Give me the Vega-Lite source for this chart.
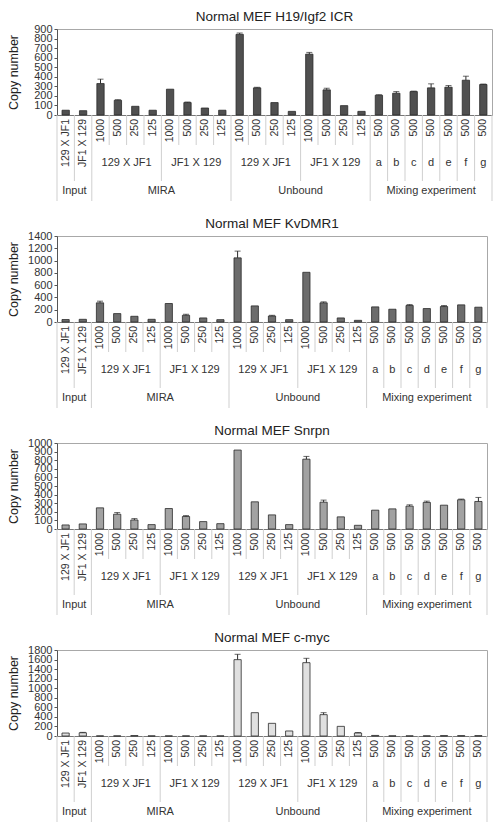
{
  "$schema": "https://vega.github.io/schema/vega-lite/v6.json",
  "padding": {"left": 6, "top": 9, "right": 4, "bottom": 0},
  "spacing": 14,
  "config": {
    "font": "Liberation Sans",
    "view": {"stroke": "#a8a8a8", "strokeWidth": 1},
    "title": {"fontSize": 13.5, "fontWeight": "normal", "color": "#222222", "offset": 0, "dy": 4},
    "axis": {"grid": false, "labelOverlap": false, "labelFlush": false, "labelBound": false},
    "text": {"color": "#333333", "fontSize": 11, "baseline": "middle", "align": "center"}
  },
  "datasets": {
    "bars": [
      {"gene": "H19", "cat": "I1", "v": 50}, {"gene": "H19", "cat": "I2", "v": 45},
      {"gene": "H19", "cat": "Ma1", "v": 329, "hi": 375}, {"gene": "H19", "cat": "Ma2", "v": 154, "hi": 160}, {"gene": "H19", "cat": "Ma3", "v": 91}, {"gene": "H19", "cat": "Ma4", "v": 50},
      {"gene": "H19", "cat": "Mb1", "v": 270}, {"gene": "H19", "cat": "Mb2", "v": 130, "hi": 136}, {"gene": "H19", "cat": "Mb3", "v": 73}, {"gene": "H19", "cat": "Mb4", "v": 50},
      {"gene": "H19", "cat": "Ua1", "v": 844, "hi": 858}, {"gene": "H19", "cat": "Ua2", "v": 284, "hi": 290}, {"gene": "H19", "cat": "Ua3", "v": 130}, {"gene": "H19", "cat": "Ua4", "v": 38},
      {"gene": "H19", "cat": "Ub1", "v": 637, "hi": 655}, {"gene": "H19", "cat": "Ub2", "v": 263, "hi": 280}, {"gene": "H19", "cat": "Ub3", "v": 98}, {"gene": "H19", "cat": "Ub4", "v": 38},
      {"gene": "H19", "cat": "Xa", "v": 207, "hi": 212}, {"gene": "H19", "cat": "Xb", "v": 228, "hi": 245}, {"gene": "H19", "cat": "Xc", "v": 245, "hi": 250}, {"gene": "H19", "cat": "Xd", "v": 284, "hi": 326}, {"gene": "H19", "cat": "Xe", "v": 291, "hi": 308}, {"gene": "H19", "cat": "Xf", "v": 364, "hi": 406}, {"gene": "H19", "cat": "Xg", "v": 319, "hi": 324},
      {"gene": "Kv", "cat": "I1", "v": 40}, {"gene": "Kv", "cat": "I2", "v": 44},
      {"gene": "Kv", "cat": "Ma1", "v": 312, "hi": 339}, {"gene": "Kv", "cat": "Ma2", "v": 137}, {"gene": "Kv", "cat": "Ma3", "v": 93}, {"gene": "Kv", "cat": "Ma4", "v": 44},
      {"gene": "Kv", "cat": "Mb1", "v": 301}, {"gene": "Kv", "cat": "Mb2", "v": 109, "hi": 126}, {"gene": "Kv", "cat": "Mb3", "v": 66}, {"gene": "Kv", "cat": "Mb4", "v": 38},
      {"gene": "Kv", "cat": "Ua1", "v": 1044, "hi": 1154}, {"gene": "Kv", "cat": "Ua2", "v": 262}, {"gene": "Kv", "cat": "Ua3", "v": 98, "hi": 109}, {"gene": "Kv", "cat": "Ua4", "v": 38},
      {"gene": "Kv", "cat": "Ub1", "v": 809}, {"gene": "Kv", "cat": "Ub2", "v": 312, "hi": 328}, {"gene": "Kv", "cat": "Ub3", "v": 66}, {"gene": "Kv", "cat": "Ub4", "v": 27},
      {"gene": "Kv", "cat": "Xa", "v": 246}, {"gene": "Kv", "cat": "Xb", "v": 208}, {"gene": "Kv", "cat": "Xc", "v": 268, "hi": 284}, {"gene": "Kv", "cat": "Xd", "v": 219}, {"gene": "Kv", "cat": "Xe", "v": 252, "hi": 268}, {"gene": "Kv", "cat": "Xf", "v": 279}, {"gene": "Kv", "cat": "Xg", "v": 241},
      {"gene": "Snrpn", "cat": "I1", "v": 47}, {"gene": "Snrpn", "cat": "I2", "v": 59},
      {"gene": "Snrpn", "cat": "Ma1", "v": 246}, {"gene": "Snrpn", "cat": "Ma2", "v": 172, "hi": 191}, {"gene": "Snrpn", "cat": "Ma3", "v": 105, "hi": 121}, {"gene": "Snrpn", "cat": "Ma4", "v": 51},
      {"gene": "Snrpn", "cat": "Mb1", "v": 238}, {"gene": "Snrpn", "cat": "Mb2", "v": 145, "hi": 156}, {"gene": "Snrpn", "cat": "Mb3", "v": 86}, {"gene": "Snrpn", "cat": "Mb4", "v": 62},
      {"gene": "Snrpn", "cat": "Ua1", "v": 918}, {"gene": "Snrpn", "cat": "Ua2", "v": 316}, {"gene": "Snrpn", "cat": "Ua3", "v": 164}, {"gene": "Snrpn", "cat": "Ua4", "v": 51},
      {"gene": "Snrpn", "cat": "Ub1", "v": 812, "hi": 844}, {"gene": "Snrpn", "cat": "Ub2", "v": 312, "hi": 336}, {"gene": "Snrpn", "cat": "Ub3", "v": 141}, {"gene": "Snrpn", "cat": "Ub4", "v": 43},
      {"gene": "Snrpn", "cat": "Xa", "v": 219}, {"gene": "Snrpn", "cat": "Xb", "v": 234}, {"gene": "Snrpn", "cat": "Xc", "v": 266, "hi": 281}, {"gene": "Snrpn", "cat": "Xd", "v": 309, "hi": 324}, {"gene": "Snrpn", "cat": "Xe", "v": 277}, {"gene": "Snrpn", "cat": "Xf", "v": 340, "hi": 348}, {"gene": "Snrpn", "cat": "Xg", "v": 320, "hi": 367},
      {"gene": "myc", "cat": "I1", "v": 62}, {"gene": "myc", "cat": "I2", "v": 68, "hi": 76},
      {"gene": "myc", "cat": "Ma1", "v": 2}, {"gene": "myc", "cat": "Ma2", "v": 2}, {"gene": "myc", "cat": "Ma3", "v": 9}, {"gene": "myc", "cat": "Ma4", "v": 2},
      {"gene": "myc", "cat": "Mb1", "v": 2}, {"gene": "myc", "cat": "Mb2", "v": 2}, {"gene": "myc", "cat": "Mb3", "v": 2}, {"gene": "myc", "cat": "Mb4", "v": 2},
      {"gene": "myc", "cat": "Ua1", "v": 1598, "hi": 1710}, {"gene": "myc", "cat": "Ua2", "v": 488}, {"gene": "myc", "cat": "Ua3", "v": 265}, {"gene": "myc", "cat": "Ua4", "v": 105},
      {"gene": "myc", "cat": "Ub1", "v": 1535, "hi": 1626}, {"gene": "myc", "cat": "Ub2", "v": 447, "hi": 488}, {"gene": "myc", "cat": "Ub3", "v": 202}, {"gene": "myc", "cat": "Ub4", "v": 63, "hi": 72},
      {"gene": "myc", "cat": "Xa", "v": 12}, {"gene": "myc", "cat": "Xb", "v": 3}, {"gene": "myc", "cat": "Xc", "v": 3}, {"gene": "myc", "cat": "Xd", "v": 3}, {"gene": "myc", "cat": "Xe", "v": 8}, {"gene": "myc", "cat": "Xf", "v": 8}, {"gene": "myc", "cat": "Xg", "v": 8}
    ],
    "labels": [
      {"cat": "I1", "text": "129 X JF1", "lvl": 1, "anchor": "mid"}, {"cat": "I2", "text": "JF1 X 129", "lvl": 1, "anchor": "mid"},
      {"cat": "Ma1", "text": "1000", "lvl": 1, "anchor": "mid"}, {"cat": "Ma2", "text": "500", "lvl": 1, "anchor": "mid"}, {"cat": "Ma3", "text": "250", "lvl": 1, "anchor": "mid"}, {"cat": "Ma4", "text": "125", "lvl": 1, "anchor": "mid"},
      {"cat": "Mb1", "text": "1000", "lvl": 1, "anchor": "mid"}, {"cat": "Mb2", "text": "500", "lvl": 1, "anchor": "mid"}, {"cat": "Mb3", "text": "250", "lvl": 1, "anchor": "mid"}, {"cat": "Mb4", "text": "125", "lvl": 1, "anchor": "mid"},
      {"cat": "Ua1", "text": "1000", "lvl": 1, "anchor": "mid"}, {"cat": "Ua2", "text": "500", "lvl": 1, "anchor": "mid"}, {"cat": "Ua3", "text": "250", "lvl": 1, "anchor": "mid"}, {"cat": "Ua4", "text": "125", "lvl": 1, "anchor": "mid"},
      {"cat": "Ub1", "text": "1000", "lvl": 1, "anchor": "mid"}, {"cat": "Ub2", "text": "500", "lvl": 1, "anchor": "mid"}, {"cat": "Ub3", "text": "250", "lvl": 1, "anchor": "mid"}, {"cat": "Ub4", "text": "125", "lvl": 1, "anchor": "mid"},
      {"cat": "Xa", "text": "500", "lvl": 1, "anchor": "mid"}, {"cat": "Xb", "text": "500", "lvl": 1, "anchor": "mid"}, {"cat": "Xc", "text": "500", "lvl": 1, "anchor": "mid"}, {"cat": "Xd", "text": "500", "lvl": 1, "anchor": "mid"}, {"cat": "Xe", "text": "500", "lvl": 1, "anchor": "mid"}, {"cat": "Xf", "text": "500", "lvl": 1, "anchor": "mid"}, {"cat": "Xg", "text": "500", "lvl": 1, "anchor": "mid"},
      {"cat": "Ma2", "text": "129 X JF1", "lvl": 2, "anchor": "end"}, {"cat": "Mb2", "text": "JF1 X 129", "lvl": 2, "anchor": "end"},
      {"cat": "Ua2", "text": "129 X JF1", "lvl": 2, "anchor": "end"}, {"cat": "Ub2", "text": "JF1 X 129", "lvl": 2, "anchor": "end"},
      {"cat": "Xa", "text": "a", "lvl": 2, "anchor": "mid"}, {"cat": "Xb", "text": "b", "lvl": 2, "anchor": "mid"}, {"cat": "Xc", "text": "c", "lvl": 2, "anchor": "mid"}, {"cat": "Xd", "text": "d", "lvl": 2, "anchor": "mid"}, {"cat": "Xe", "text": "e", "lvl": 2, "anchor": "mid"}, {"cat": "Xf", "text": "f", "lvl": 2, "anchor": "mid"}, {"cat": "Xg", "text": "g", "lvl": 2, "anchor": "mid"},
      {"cat": "I1", "text": "Input", "lvl": 3, "anchor": "end"}, {"cat": "Ma4", "text": "MIRA", "lvl": 3, "anchor": "end"}, {"cat": "Ua4", "text": "Unbound", "lvl": 3, "anchor": "end"}, {"cat": "Xd", "text": "Mixing experiment", "lvl": 3, "anchor": "mid"}
    ],
    "seps": [
      {"cat": "I1", "depth": 3, "side": "start"}, {"cat": "I2", "depth": 2, "side": "start"},
      {"cat": "Ma1", "depth": 3, "side": "start"}, {"cat": "Ma2", "depth": 1, "side": "start"}, {"cat": "Ma3", "depth": 1, "side": "start"}, {"cat": "Ma4", "depth": 1, "side": "start"},
      {"cat": "Mb1", "depth": 2, "side": "start"}, {"cat": "Mb2", "depth": 1, "side": "start"}, {"cat": "Mb3", "depth": 1, "side": "start"}, {"cat": "Mb4", "depth": 1, "side": "start"},
      {"cat": "Ua1", "depth": 3, "side": "start"}, {"cat": "Ua2", "depth": 1, "side": "start"}, {"cat": "Ua3", "depth": 1, "side": "start"}, {"cat": "Ua4", "depth": 1, "side": "start"},
      {"cat": "Ub1", "depth": 2, "side": "start"}, {"cat": "Ub2", "depth": 1, "side": "start"}, {"cat": "Ub3", "depth": 1, "side": "start"}, {"cat": "Ub4", "depth": 1, "side": "start"},
      {"cat": "Xa", "depth": 3, "side": "start"}, {"cat": "Xb", "depth": 2, "side": "start"}, {"cat": "Xc", "depth": 2, "side": "start"}, {"cat": "Xd", "depth": 2, "side": "start"}, {"cat": "Xe", "depth": 2, "side": "start"}, {"cat": "Xf", "depth": 2, "side": "start"}, {"cat": "Xg", "depth": 2, "side": "start"},
      {"cat": "Xg", "depth": 3, "side": "end"}
    ]
  },
  "vconcat": [
    {
      "title": "Normal MEF H19/Igf2 ICR",
      "width": 435, "height": 86,
      "resolve": {"scale": {"y": "independent"}, "axis": {"y": "independent"}},
      "layer": [
        {"data": {"name": "bars"}, "transform": [{"filter": "datum.gene == 'H19'"}],
         "mark": {"type": "bar", "width": {"band": 0.42}, "fill": "#505050", "stroke": "#2a2a2a", "strokeWidth": 0.8},
         "encoding": {
           "x": {"field": "cat", "type": "nominal", "sort": null, "scale": {"domain": ["I1","I2","Ma1","Ma2","Ma3","Ma4","Mb1","Mb2","Mb3","Mb4","Ua1","Ua2","Ua3","Ua4","Ub1","Ub2","Ub3","Ub4","Xa","Xb","Xc","Xd","Xe","Xf","Xg"], "paddingInner": 0, "paddingOuter": 0}, "axis": {"labels": false, "ticks": false, "title": null, "domainColor": "#777777"}},
           "y": {"field": "v", "type": "quantitative", "scale": {"domain": [0, 900], "nice": false}, "axis": {"values": [0,100,200,300,400,500,600,700,800,900], "format": "d", "title": "Copy number", "titleFontSize": 12.5, "titleFontWeight": "normal", "titleColor": "#222222", "labelFontSize": 11, "labelColor": "#333333", "tickSize": 3, "labelPadding": 2, "tickColor": "#555555", "domainColor": "#555555", "minExtent": 34, "maxExtent": 34, "titlePadding": 3}}}},
        {"data": {"name": "bars"}, "transform": [{"filter": "datum.gene == 'H19' && isValid(datum.hi)"}],
         "mark": {"type": "rule", "color": "#2a2a2a", "strokeWidth": 1},
         "encoding": {"x": {"field": "cat", "type": "nominal"}, "y": {"field": "v", "type": "quantitative", "scale": {"domain": [0, 900], "nice": false}, "axis": null}, "y2": {"field": "hi"}}},
        {"data": {"name": "bars"}, "transform": [{"filter": "datum.gene == 'H19' && isValid(datum.hi)"}],
         "mark": {"type": "tick", "orient": "horizontal", "size": 6, "thickness": 1, "color": "#2a2a2a"},
         "encoding": {"x": {"field": "cat", "type": "nominal"}, "y": {"field": "hi", "type": "quantitative", "scale": {"domain": [0, 900], "nice": false}, "axis": null}}},
        {"data": {"name": "seps"}, "transform": [{"filter": "datum.side == 'start'"}],
         "mark": {"type": "rule", "color": "#cfcfcf", "strokeWidth": 1},
         "encoding": {"x": {"field": "cat", "type": "nominal", "bandPosition": 0}, "y": {"field": "depth", "type": "quantitative", "scale": {"domain": [0, 1, 2, 3], "range": [86, 116, 152, 172], "nice": false, "zero": false}, "axis": null}, "y2": {"datum": 0}}},
        {"data": {"name": "seps"}, "transform": [{"filter": "datum.side == 'end'"}],
         "mark": {"type": "rule", "color": "#cfcfcf", "strokeWidth": 1},
         "encoding": {"x": {"field": "cat", "type": "nominal", "bandPosition": 1}, "y": {"field": "depth", "type": "quantitative", "scale": {"domain": [0, 1, 2, 3], "range": [86, 116, 152, 172], "nice": false, "zero": false}, "axis": null}, "y2": {"datum": 0}}},
        {"data": {"name": "labels"}, "transform": [{"filter": "datum.lvl == 1"}],
         "mark": {"type": "text", "angle": 270, "align": "right", "fontSize": 10.5},
         "encoding": {"x": {"field": "cat", "type": "nominal"}, "y": {"field": "lvl", "type": "quantitative", "scale": {"domain": [1, 2, 3, 4], "range": [90, 116, 152, 172], "nice": false, "zero": false}, "axis": null}, "text": {"field": "text"}}},
        {"data": {"name": "labels"}, "transform": [{"filter": "datum.lvl > 1 && datum.anchor == 'mid'"}],
         "mark": {"type": "text"},
         "encoding": {"x": {"field": "cat", "type": "nominal"}, "y": {"field": "lvl", "type": "quantitative", "scale": {"domain": [1, 2, 3], "range": [101, 134, 162], "nice": false, "zero": false}, "axis": null}, "text": {"field": "text"}}},
        {"data": {"name": "labels"}, "transform": [{"filter": "datum.lvl > 1 && datum.anchor == 'end'"}],
         "mark": {"type": "text"},
         "encoding": {"x": {"field": "cat", "type": "nominal", "bandPosition": 1}, "y": {"field": "lvl", "type": "quantitative", "scale": {"domain": [1, 2, 3], "range": [101, 134, 162], "nice": false, "zero": false}, "axis": null}, "text": {"field": "text"}}}
      ]
    },
    {
      "title": "Normal MEF KvDMR1",
      "width": 430, "height": 86,
      "resolve": {"scale": {"y": "independent"}, "axis": {"y": "independent"}},
      "layer": [
        {"data": {"name": "bars"}, "transform": [{"filter": "datum.gene == 'Kv'"}],
         "mark": {"type": "bar", "width": {"band": 0.42}, "fill": "#6c6c6c", "stroke": "#2a2a2a", "strokeWidth": 0.8},
         "encoding": {
           "x": {"field": "cat", "type": "nominal", "sort": null, "scale": {"domain": ["I1","I2","Ma1","Ma2","Ma3","Ma4","Mb1","Mb2","Mb3","Mb4","Ua1","Ua2","Ua3","Ua4","Ub1","Ub2","Ub3","Ub4","Xa","Xb","Xc","Xd","Xe","Xf","Xg"], "paddingInner": 0, "paddingOuter": 0}, "axis": {"labels": false, "ticks": false, "title": null, "domainColor": "#777777"}},
           "y": {"field": "v", "type": "quantitative", "scale": {"domain": [0, 1400], "nice": false}, "axis": {"values": [0,200,400,600,800,1000,1200,1400], "format": "d", "title": "Copy number", "titleFontSize": 12.5, "titleFontWeight": "normal", "titleColor": "#222222", "labelFontSize": 11, "labelColor": "#333333", "tickSize": 3, "labelPadding": 2, "tickColor": "#555555", "domainColor": "#555555", "minExtent": 34, "maxExtent": 34, "titlePadding": 3}}}},
        {"data": {"name": "bars"}, "transform": [{"filter": "datum.gene == 'Kv' && isValid(datum.hi)"}],
         "mark": {"type": "rule", "color": "#2a2a2a", "strokeWidth": 1},
         "encoding": {"x": {"field": "cat", "type": "nominal"}, "y": {"field": "v", "type": "quantitative", "scale": {"domain": [0, 1400], "nice": false}, "axis": null}, "y2": {"field": "hi"}}},
        {"data": {"name": "bars"}, "transform": [{"filter": "datum.gene == 'Kv' && isValid(datum.hi)"}],
         "mark": {"type": "tick", "orient": "horizontal", "size": 6, "thickness": 1, "color": "#2a2a2a"},
         "encoding": {"x": {"field": "cat", "type": "nominal"}, "y": {"field": "hi", "type": "quantitative", "scale": {"domain": [0, 1400], "nice": false}, "axis": null}}},
        {"data": {"name": "seps"}, "transform": [{"filter": "datum.side == 'start'"}],
         "mark": {"type": "rule", "color": "#cfcfcf", "strokeWidth": 1},
         "encoding": {"x": {"field": "cat", "type": "nominal", "bandPosition": 0}, "y": {"field": "depth", "type": "quantitative", "scale": {"domain": [0, 1, 2, 3], "range": [86, 116, 152, 172], "nice": false, "zero": false}, "axis": null}, "y2": {"datum": 0}}},
        {"data": {"name": "seps"}, "transform": [{"filter": "datum.side == 'end'"}],
         "mark": {"type": "rule", "color": "#cfcfcf", "strokeWidth": 1},
         "encoding": {"x": {"field": "cat", "type": "nominal", "bandPosition": 1}, "y": {"field": "depth", "type": "quantitative", "scale": {"domain": [0, 1, 2, 3], "range": [86, 116, 152, 172], "nice": false, "zero": false}, "axis": null}, "y2": {"datum": 0}}},
        {"data": {"name": "labels"}, "transform": [{"filter": "datum.lvl == 1"}],
         "mark": {"type": "text", "angle": 270, "align": "right", "fontSize": 10.5},
         "encoding": {"x": {"field": "cat", "type": "nominal"}, "y": {"field": "lvl", "type": "quantitative", "scale": {"domain": [1, 2, 3, 4], "range": [90, 116, 152, 172], "nice": false, "zero": false}, "axis": null}, "text": {"field": "text"}}},
        {"data": {"name": "labels"}, "transform": [{"filter": "datum.lvl > 1 && datum.anchor == 'mid'"}],
         "mark": {"type": "text"},
         "encoding": {"x": {"field": "cat", "type": "nominal"}, "y": {"field": "lvl", "type": "quantitative", "scale": {"domain": [1, 2, 3], "range": [101, 134, 162], "nice": false, "zero": false}, "axis": null}, "text": {"field": "text"}}},
        {"data": {"name": "labels"}, "transform": [{"filter": "datum.lvl > 1 && datum.anchor == 'end'"}],
         "mark": {"type": "text"},
         "encoding": {"x": {"field": "cat", "type": "nominal", "bandPosition": 1}, "y": {"field": "lvl", "type": "quantitative", "scale": {"domain": [1, 2, 3], "range": [101, 134, 162], "nice": false, "zero": false}, "axis": null}, "text": {"field": "text"}}}
      ]
    },
    {
      "title": "Normal MEF Snrpn",
      "width": 430, "height": 86,
      "resolve": {"scale": {"y": "independent"}, "axis": {"y": "independent"}},
      "layer": [
        {"data": {"name": "bars"}, "transform": [{"filter": "datum.gene == 'Snrpn'"}],
         "mark": {"type": "bar", "width": {"band": 0.42}, "fill": "#a2a2a2", "stroke": "#2a2a2a", "strokeWidth": 0.8},
         "encoding": {
           "x": {"field": "cat", "type": "nominal", "sort": null, "scale": {"domain": ["I1","I2","Ma1","Ma2","Ma3","Ma4","Mb1","Mb2","Mb3","Mb4","Ua1","Ua2","Ua3","Ua4","Ub1","Ub2","Ub3","Ub4","Xa","Xb","Xc","Xd","Xe","Xf","Xg"], "paddingInner": 0, "paddingOuter": 0}, "axis": {"labels": false, "ticks": false, "title": null, "domainColor": "#777777"}},
           "y": {"field": "v", "type": "quantitative", "scale": {"domain": [0, 1000], "nice": false}, "axis": {"values": [0,100,200,300,400,500,600,700,800,900,1000], "format": "d", "title": "Copy number", "titleFontSize": 12.5, "titleFontWeight": "normal", "titleColor": "#222222", "labelFontSize": 11, "labelColor": "#333333", "tickSize": 3, "labelPadding": 2, "tickColor": "#555555", "domainColor": "#555555", "minExtent": 34, "maxExtent": 34, "titlePadding": 3}}}},
        {"data": {"name": "bars"}, "transform": [{"filter": "datum.gene == 'Snrpn' && isValid(datum.hi)"}],
         "mark": {"type": "rule", "color": "#2a2a2a", "strokeWidth": 1},
         "encoding": {"x": {"field": "cat", "type": "nominal"}, "y": {"field": "v", "type": "quantitative", "scale": {"domain": [0, 1000], "nice": false}, "axis": null}, "y2": {"field": "hi"}}},
        {"data": {"name": "bars"}, "transform": [{"filter": "datum.gene == 'Snrpn' && isValid(datum.hi)"}],
         "mark": {"type": "tick", "orient": "horizontal", "size": 6, "thickness": 1, "color": "#2a2a2a"},
         "encoding": {"x": {"field": "cat", "type": "nominal"}, "y": {"field": "hi", "type": "quantitative", "scale": {"domain": [0, 1000], "nice": false}, "axis": null}}},
        {"data": {"name": "seps"}, "transform": [{"filter": "datum.side == 'start'"}],
         "mark": {"type": "rule", "color": "#cfcfcf", "strokeWidth": 1},
         "encoding": {"x": {"field": "cat", "type": "nominal", "bandPosition": 0}, "y": {"field": "depth", "type": "quantitative", "scale": {"domain": [0, 1, 2, 3], "range": [86, 116, 152, 172], "nice": false, "zero": false}, "axis": null}, "y2": {"datum": 0}}},
        {"data": {"name": "seps"}, "transform": [{"filter": "datum.side == 'end'"}],
         "mark": {"type": "rule", "color": "#cfcfcf", "strokeWidth": 1},
         "encoding": {"x": {"field": "cat", "type": "nominal", "bandPosition": 1}, "y": {"field": "depth", "type": "quantitative", "scale": {"domain": [0, 1, 2, 3], "range": [86, 116, 152, 172], "nice": false, "zero": false}, "axis": null}, "y2": {"datum": 0}}},
        {"data": {"name": "labels"}, "transform": [{"filter": "datum.lvl == 1"}],
         "mark": {"type": "text", "angle": 270, "align": "right", "fontSize": 10.5},
         "encoding": {"x": {"field": "cat", "type": "nominal"}, "y": {"field": "lvl", "type": "quantitative", "scale": {"domain": [1, 2, 3, 4], "range": [90, 116, 152, 172], "nice": false, "zero": false}, "axis": null}, "text": {"field": "text"}}},
        {"data": {"name": "labels"}, "transform": [{"filter": "datum.lvl > 1 && datum.anchor == 'mid'"}],
         "mark": {"type": "text"},
         "encoding": {"x": {"field": "cat", "type": "nominal"}, "y": {"field": "lvl", "type": "quantitative", "scale": {"domain": [1, 2, 3], "range": [101, 134, 162], "nice": false, "zero": false}, "axis": null}, "text": {"field": "text"}}},
        {"data": {"name": "labels"}, "transform": [{"filter": "datum.lvl > 1 && datum.anchor == 'end'"}],
         "mark": {"type": "text"},
         "encoding": {"x": {"field": "cat", "type": "nominal", "bandPosition": 1}, "y": {"field": "lvl", "type": "quantitative", "scale": {"domain": [1, 2, 3], "range": [101, 134, 162], "nice": false, "zero": false}, "axis": null}, "text": {"field": "text"}}}
      ]
    },
    {
      "title": "Normal MEF c-myc",
      "width": 430, "height": 86,
      "resolve": {"scale": {"y": "independent"}, "axis": {"y": "independent"}},
      "layer": [
        {"data": {"name": "bars"}, "transform": [{"filter": "datum.gene == 'myc'"}],
         "mark": {"type": "bar", "width": {"band": 0.42}, "fill": "#e0e0e0", "stroke": "#2a2a2a", "strokeWidth": 0.8},
         "encoding": {
           "x": {"field": "cat", "type": "nominal", "sort": null, "scale": {"domain": ["I1","I2","Ma1","Ma2","Ma3","Ma4","Mb1","Mb2","Mb3","Mb4","Ua1","Ua2","Ua3","Ua4","Ub1","Ub2","Ub3","Ub4","Xa","Xb","Xc","Xd","Xe","Xf","Xg"], "paddingInner": 0, "paddingOuter": 0}, "axis": {"labels": false, "ticks": false, "title": null, "domainColor": "#777777"}},
           "y": {"field": "v", "type": "quantitative", "scale": {"domain": [0, 1800], "nice": false}, "axis": {"values": [0,200,400,600,800,1000,1200,1400,1600,1800], "format": "d", "title": "Copy number", "titleFontSize": 12.5, "titleFontWeight": "normal", "titleColor": "#222222", "labelFontSize": 11, "labelColor": "#333333", "tickSize": 3, "labelPadding": 2, "tickColor": "#555555", "domainColor": "#555555", "minExtent": 34, "maxExtent": 34, "titlePadding": 3}}}},
        {"data": {"name": "bars"}, "transform": [{"filter": "datum.gene == 'myc' && isValid(datum.hi)"}],
         "mark": {"type": "rule", "color": "#2a2a2a", "strokeWidth": 1},
         "encoding": {"x": {"field": "cat", "type": "nominal"}, "y": {"field": "v", "type": "quantitative", "scale": {"domain": [0, 1800], "nice": false}, "axis": null}, "y2": {"field": "hi"}}},
        {"data": {"name": "bars"}, "transform": [{"filter": "datum.gene == 'myc' && isValid(datum.hi)"}],
         "mark": {"type": "tick", "orient": "horizontal", "size": 6, "thickness": 1, "color": "#2a2a2a"},
         "encoding": {"x": {"field": "cat", "type": "nominal"}, "y": {"field": "hi", "type": "quantitative", "scale": {"domain": [0, 1800], "nice": false}, "axis": null}}},
        {"data": {"name": "seps"}, "transform": [{"filter": "datum.side == 'start'"}],
         "mark": {"type": "rule", "color": "#cfcfcf", "strokeWidth": 1},
         "encoding": {"x": {"field": "cat", "type": "nominal", "bandPosition": 0}, "y": {"field": "depth", "type": "quantitative", "scale": {"domain": [0, 1, 2, 3], "range": [86, 116, 152, 172], "nice": false, "zero": false}, "axis": null}, "y2": {"datum": 0}}},
        {"data": {"name": "seps"}, "transform": [{"filter": "datum.side == 'end'"}],
         "mark": {"type": "rule", "color": "#cfcfcf", "strokeWidth": 1},
         "encoding": {"x": {"field": "cat", "type": "nominal", "bandPosition": 1}, "y": {"field": "depth", "type": "quantitative", "scale": {"domain": [0, 1, 2, 3], "range": [86, 116, 152, 172], "nice": false, "zero": false}, "axis": null}, "y2": {"datum": 0}}},
        {"data": {"name": "labels"}, "transform": [{"filter": "datum.lvl == 1"}],
         "mark": {"type": "text", "angle": 270, "align": "right", "fontSize": 10.5},
         "encoding": {"x": {"field": "cat", "type": "nominal"}, "y": {"field": "lvl", "type": "quantitative", "scale": {"domain": [1, 2, 3, 4], "range": [90, 116, 152, 172], "nice": false, "zero": false}, "axis": null}, "text": {"field": "text"}}},
        {"data": {"name": "labels"}, "transform": [{"filter": "datum.lvl > 1 && datum.anchor == 'mid'"}],
         "mark": {"type": "text"},
         "encoding": {"x": {"field": "cat", "type": "nominal"}, "y": {"field": "lvl", "type": "quantitative", "scale": {"domain": [1, 2, 3], "range": [101, 134, 162], "nice": false, "zero": false}, "axis": null}, "text": {"field": "text"}}},
        {"data": {"name": "labels"}, "transform": [{"filter": "datum.lvl > 1 && datum.anchor == 'end'"}],
         "mark": {"type": "text"},
         "encoding": {"x": {"field": "cat", "type": "nominal", "bandPosition": 1}, "y": {"field": "lvl", "type": "quantitative", "scale": {"domain": [1, 2, 3], "range": [101, 134, 162], "nice": false, "zero": false}, "axis": null}, "text": {"field": "text"}}}
      ]
    }
  ]
}
